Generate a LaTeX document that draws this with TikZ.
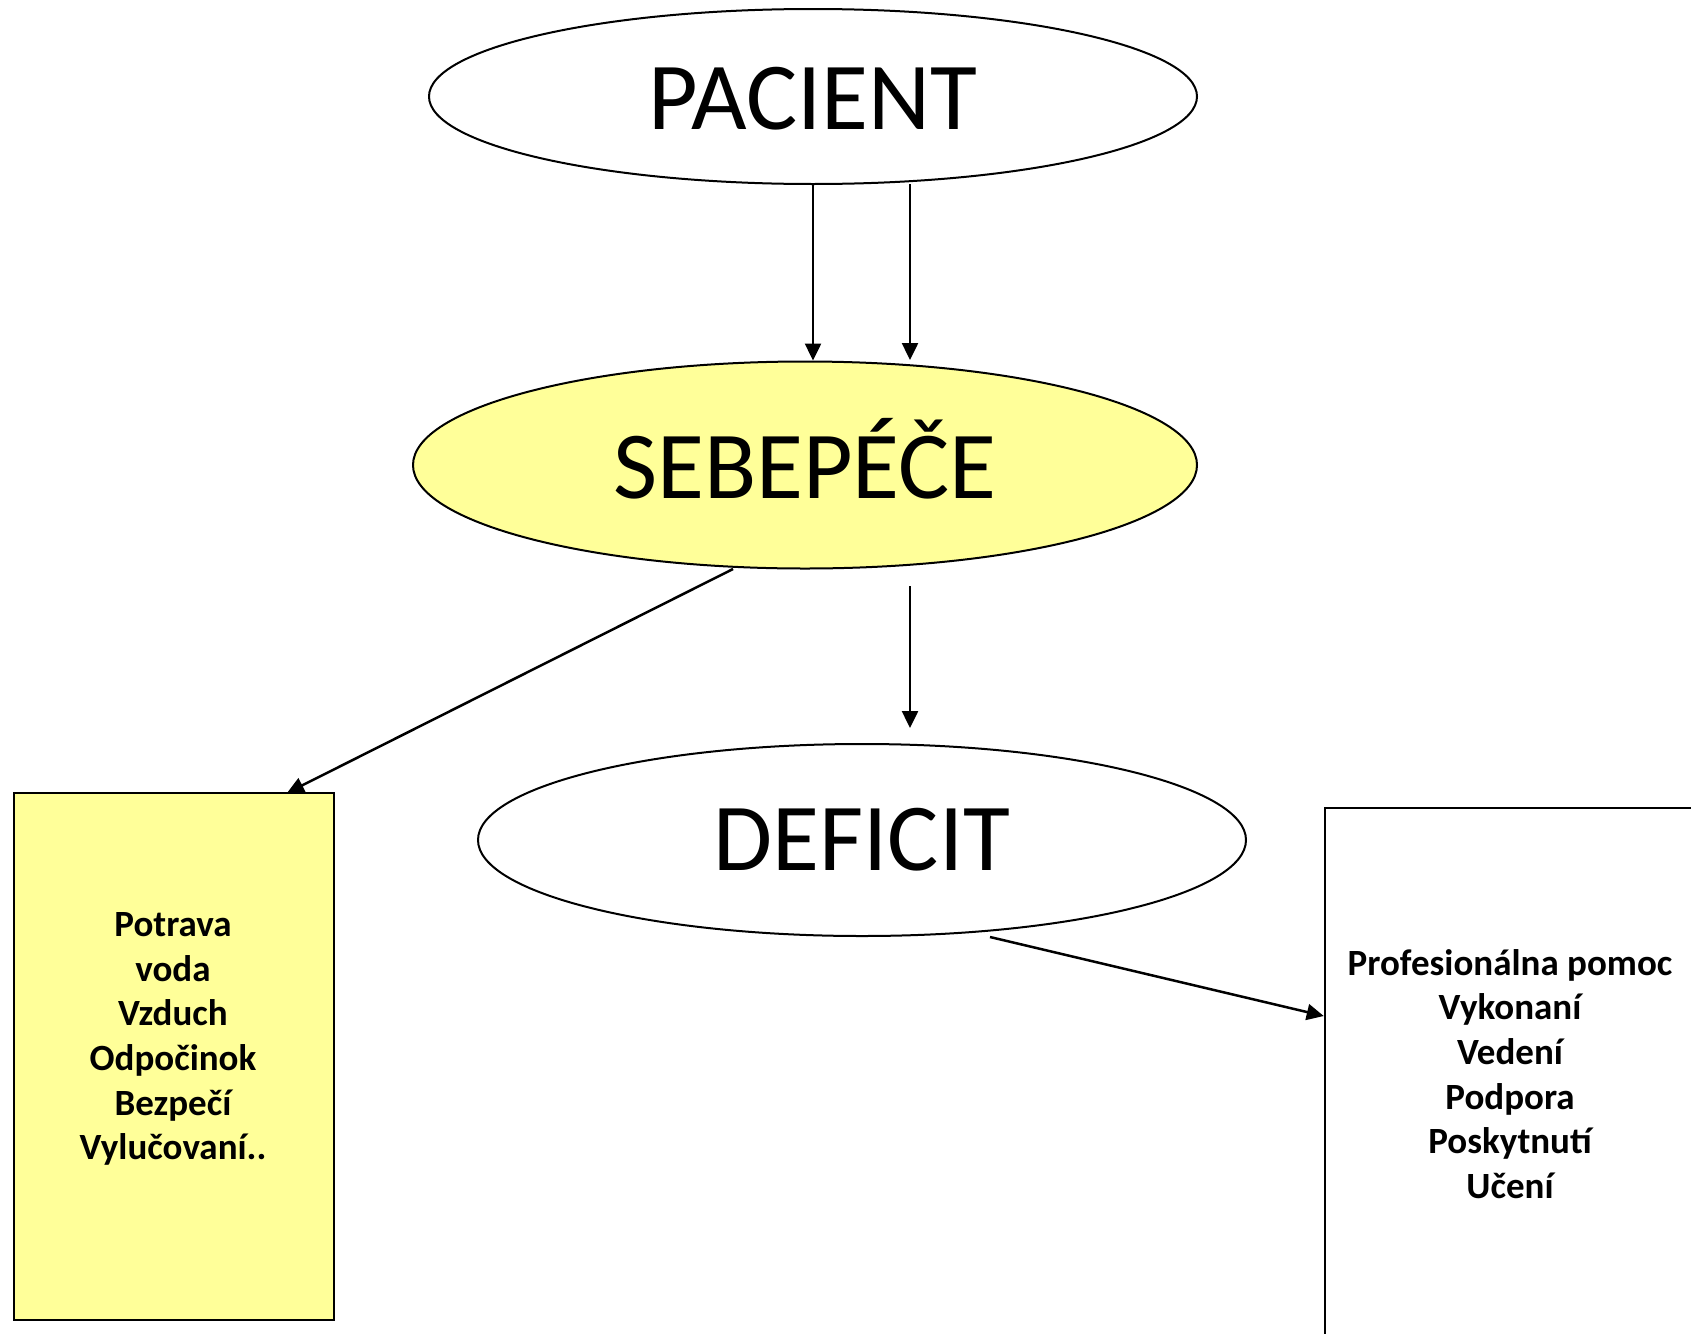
\documentclass[tikz,border=0pt]{standalone}
\usepackage{fontspec}
\setmainfont{Carlito}
\usetikzlibrary{shapes.geometric,arrows.meta}
\definecolor{lightyel}{RGB}{255,255,153}
\tikzset{
  bigell/.style={ellipse,draw=black,line width=2pt,inner sep=0pt,
    font=\fontsize{96}{115}\selectfont},
  boxlist/.style={align=center,inner sep=0pt,
    font=\fontsize{37}{44.7}\selectfont\bfseries},
  panel/.style={rectangle,draw=black,line width=2.5pt,inner sep=0pt},
  conn/.style={line width=2.5pt,-{Triangle[width=16pt,length=17pt]}}
}
\begin{document}
\begin{tikzpicture}[x=1pt,y=-1pt]
\useasboundingbox (0,0) rectangle (1691,1333);
\clip (0,0) rectangle (1691,1333);
\node[bigell,minimum width=768pt,minimum height=175pt] (pac) at (813,96.5) {\raisebox{-2pt}[\height][\depth]{PACIENT}};
\node[bigell,fill=lightyel,minimum width=784pt,minimum height=207pt] (seb) at (805,465) {\raisebox{6pt}[\height][\depth]{SEBEPÉČE}};
\node[bigell,minimum width=768pt,minimum height=192pt] (def) at (862,840) {DEFICIT};
\node[panel,fill=lightyel,minimum width=320pt,minimum height=527pt] (lbox) at (174,1056.5) {};
\node[boxlist] (ltext) at (173,1039) {Potrava \\ voda\\Vzduch\\Odpočinok\\Bezpečí\\Vylučovaní..};
\node[panel,minimum width=374pt,minimum height=532pt] (rbox) at (1512,1074) {};
\node[boxlist] (rtext) at (1510,1074) {Profesionálna pomoc\\Vykonaní\\Vedení\\Podpora\\Poskytnutí\\Učení};
\coordinate (a2s) at (910,184);
\coordinate (a2e) at (910,360);
\coordinate (a3s) at (733,569);
\coordinate (a3e) at (287,793);
\coordinate (a4s) at (910,586);
\coordinate (a4e) at (910,728);
\coordinate (a5s) at (990,937);
\draw[conn] (pac.south) -- (pac.south |- seb.north);
\draw[conn] (a2s) -- (a2e);
\draw[conn] (a3s) -- (a3e);
\draw[conn] (a4s) -- (a4e);
\draw[conn] (a5s) -- (rbox.west |- 0,1016);
\end{tikzpicture}
\end{document}
